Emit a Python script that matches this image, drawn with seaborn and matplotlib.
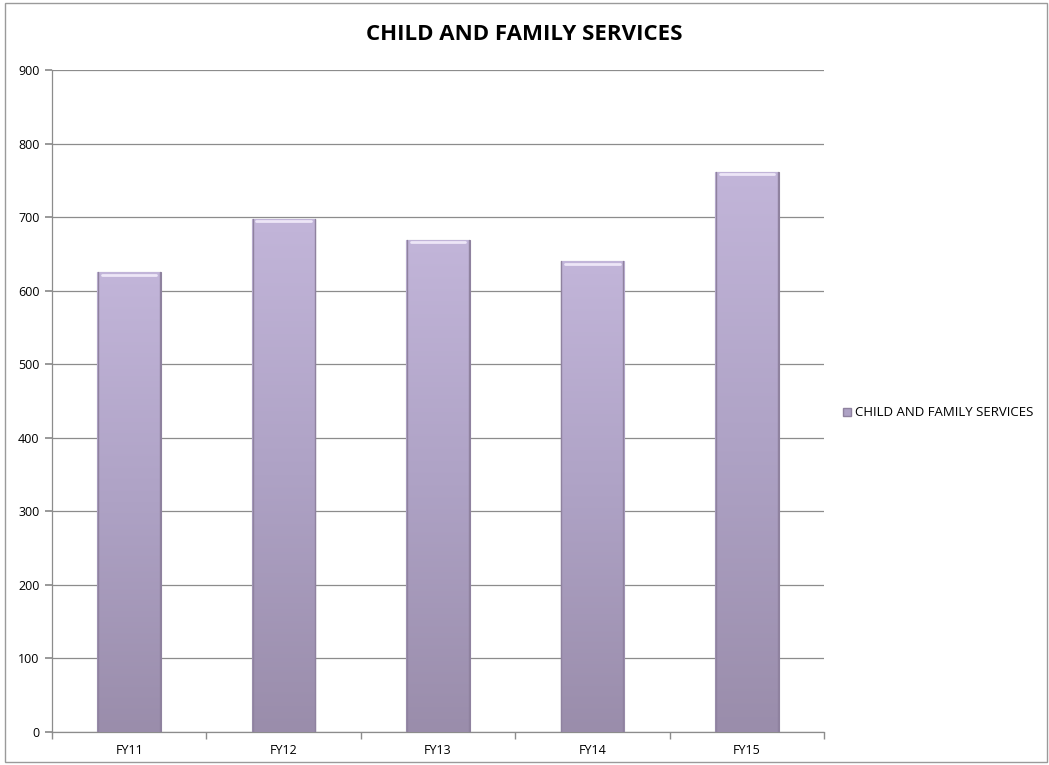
"""Recreate the CHILD AND FAMILY SERVICES bar chart."""

import matplotlib.pyplot as plt
import numpy as np
import pandas as pd
import seaborn as sns
from matplotlib.colors import LinearSegmentedColormap
from matplotlib.patches import Patch

TITLE = "CHILD AND FAMILY SERVICES"
YEARS = ["FY11", "FY12", "FY13", "FY14", "FY15"]
COUNTS = [625, 698, 669, 640, 762]
Y_TICKS = [0, 100, 200, 300, 400, 500, 600, 700, 800, 900]

BAR_TOP = "#c2b5d9"
BAR_MID = "#aea2c5"
BAR_BOTTOM = "#9a8dab"
EDGE = "#8f829f"
GRID = "#8c8c8c"

sns.set_theme(style="white")
plt.rcParams["font.family"] = ["Open Sans", "DejaVu Sans"]
plt.rcParams["text.color"] = "black"
plt.rcParams["xtick.color"] = "black"
plt.rcParams["ytick.color"] = "black"

data = pd.DataFrame({"year": YEARS, "count": COUNTS})

W, H = 1049, 765
fig = plt.figure(figsize=(W / 100, H / 100), dpi=100)
ax = fig.add_axes([52 / W, 1 - 732 / H, (824 - 52) / W, (732 - 70) / H])

sns.barplot(data=data, x="year", y="count", color=BAR_TOP, width=0.412,
            saturation=1, edgecolor=EDGE, linewidth=0.8, ax=ax, zorder=2)

# vertical gradient inside each bar plus a light top bevel
cmap = LinearSegmentedColormap.from_list("bar", [BAR_BOTTOM, BAR_MID, BAR_TOP])
gradient = np.linspace(0, 1, 256).reshape(-1, 1)
for patch in ax.patches:
    x0, y0 = patch.get_x(), patch.get_y()
    w, h = patch.get_width(), patch.get_height()
    img = ax.imshow(gradient, cmap=cmap, origin="lower", aspect="auto",
                    extent=(x0, x0 + w, y0, y0 + h), zorder=3)
    img.set_clip_path(patch)
    ax.plot([x0 + 0.03, x0 + w - 0.03], [y0 + h - 3.5, y0 + h - 3.5],
            color="#ede6f7", lw=2, zorder=4, solid_capstyle="round")
    ax.plot([x0 + 0.005, x0 + 0.005], [y0, y0 + h], color=EDGE, lw=1, zorder=4)
    ax.plot([x0 + w - 0.005, x0 + w - 0.005], [y0, y0 + h], color=EDGE, lw=1, zorder=4)

ax.set_xlim(-0.5, len(YEARS) - 0.5)
ax.set_ylim(0, 900)
ax.set_yticks(Y_TICKS)
ax.set_xlabel("")
ax.set_ylabel("")
ax.yaxis.grid(True, color=GRID, lw=0.9)
ax.set_axisbelow(True)
for side in ["top", "right"]:
    ax.spines[side].set_visible(False)
for side in ["left", "bottom"]:
    ax.spines[side].set_color(GRID)
    ax.spines[side].set_linewidth(0.9)
ax.tick_params(axis="y", which="both", left=True, length=5, color=GRID,
               labelsize=9, pad=4)
ax.tick_params(axis="x", bottom=False, length=0, labelsize=9, pad=9)
ax.set_xticks(np.arange(-0.5, len(YEARS)), minor=True)
ax.tick_params(axis="x", which="minor", bottom=True, length=5, color=GRID)

fig.text(0.5, 1 - 34 / H, TITLE, ha="center", va="center",
         fontsize=16, fontweight="bold")

fig.legend(handles=[Patch(facecolor=BAR_MID, edgecolor=EDGE, label=TITLE)],
           loc="center left", bbox_to_anchor=(843 / W, 1 - 413 / H), frameon=False,
           fontsize=9.5, handlelength=0.6, handleheight=0.6, handletextpad=0.3,
           borderpad=0, borderaxespad=0)

border = plt.Rectangle((5 / W, 3 / H), (1047 - 5) / W, (762 - 3) / H,
                       transform=fig.transFigure, fill=False,
                       edgecolor="#9a9a9a", lw=1)
fig.add_artist(border)

fig.savefig("out.png", dpi=100)
